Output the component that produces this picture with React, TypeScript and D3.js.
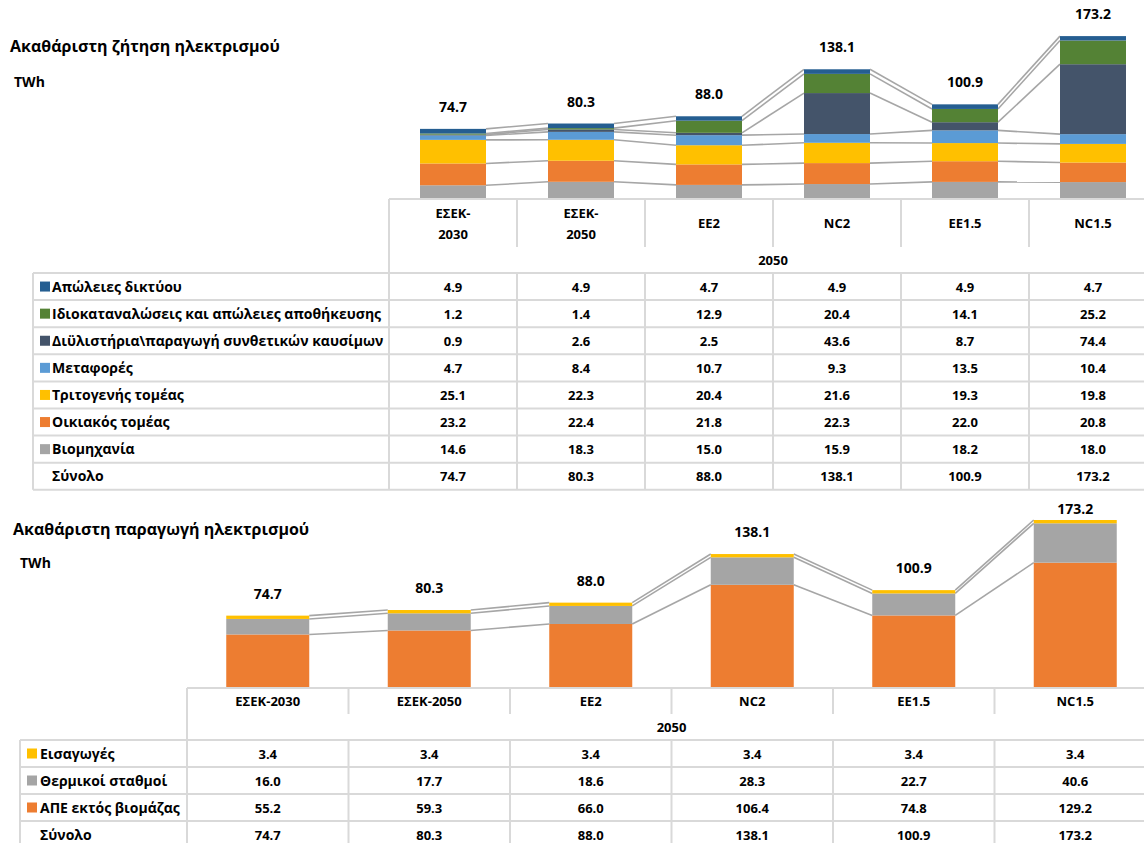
import React from "react";
import * as d3 from "d3";

// scenarios (table columns)
const scenarios = ["ΕΣΕΚ-2030", "ΕΣΕΚ-2050", "EE2", "NC2", "EE1.5", "NC1.5"];
const demandHeads = [["ΕΣΕΚ-", "2030"], ["ΕΣΕΚ-", "2050"], ["EE2"], ["NC2"], ["EE1.5"], ["NC1.5"]];
const yearLabel = "2050";

// gross electricity demand, TWh
const netLosses = [4.9, 4.9, 4.7, 4.9, 4.9, 4.7];
const ownUse = [1.2, 1.4, 12.9, 20.4, 14.1, 25.2];
const refineries = [0.9, 2.6, 2.5, 43.6, 8.7, 74.4];
const transport = [4.7, 8.4, 10.7, 9.3, 13.5, 10.4];
const tertiary = [25.1, 22.3, 20.4, 21.6, 19.3, 19.8];
const residential = [23.2, 22.4, 21.8, 22.3, 22.0, 20.8];
const industry = [14.6, 18.3, 15.0, 15.9, 18.2, 18.0];
const demandTotal = [74.7, 80.3, 88.0, 138.1, 100.9, 173.2];

// gross electricity generation, TWh
const imports = [3.4, 3.4, 3.4, 3.4, 3.4, 3.4];
const thermal = [16.0, 17.7, 18.6, 28.3, 22.7, 40.6];
const renewables = [55.2, 59.3, 66.0, 106.4, 74.8, 129.2];
const genTotal = [74.7, 80.3, 88.0, 138.1, 100.9, 173.2];

// stacked bottom -> top
const demandSeries = [
  { name: "Βιομηχανία", values: industry, color: "#a5a5a5" },
  { name: "Οικιακός τομέας", values: residential, color: "#ed7d31" },
  { name: "Τριτογενής τομέας", values: tertiary, color: "#ffc000" },
  { name: "Μεταφορές", values: transport, color: "#5b9bd5" },
  { name: "Διϋλιστήρια\\παραγωγή συνθετικών καυσίμων", values: refineries, color: "#44546a" },
  { name: "Ιδιοκαταναλώσεις και απώλειες αποθήκευσης", values: ownUse, color: "#548235" },
  { name: "Απώλειες δικτύου", values: netLosses, color: "#255e91" },
];
const genSeries = [
  { name: "ΑΠΕ εκτός βιομάζας", values: renewables, color: "#ed7d31" },
  { name: "Θερμικοί σταθμοί", values: thermal, color: "#a5a5a5" },
  { name: "Εισαγωγές", values: imports, color: "#ffc000" },
];

const FONT = "'Open Sans', 'Noto Sans', sans-serif";
const GRID = "#d9d9d9";
const SERIES_LINE = "#a6a6a6";

type Series = { name: string; values: number[]; color: string };

function Panel(props: {
  series: Series[];
  totals: number[];
  heads: string[][];
  top: number; // chart area top
  tableTop: number;
  tableLeft: number;
  labelRight: number;
  colW: number;
  headH: number;
  yearH: number;
  rowH: number;
  barW: number;
  pxPerUnit: number;
  squareX: number;
  textX: number;
}) {
  const { series, totals, heads, top, tableTop, tableLeft, labelRight, colW, headH, yearH, rowH, barW, pxPerUnit, squareX, textX } = props;
  const n = scenarios.length;
  const right = labelRight + colW * n;

  const x = d3.scaleBand<string>().domain(scenarios).range([labelRight, right]).paddingInner(0).paddingOuter(0);
  const maxV = d3.max(totals) as number;
  const y = d3.scaleLinear().domain([0, maxV]).range([tableTop, tableTop - maxV * pxPerUnit]);

  const table = scenarios.map((s, i) => {
    const o: any = { key: s };
    series.forEach((se) => (o[se.name] = se.values[i]));
    return o;
  });
  const stacked = d3.stack<any>().keys(series.map((s) => s.name))(table);

  const cx = (i: number) => (x(scenarios[i]) as number) + x.bandwidth() / 2;

  // table rows: series in reverse (top of stack first), then total
  const rows = [...series].reverse();
  const rowsTop = tableTop + headH + yearH;
  const nRows = rows.length + 1;
  const tableBottom = rowsTop + nRows * rowH;

  return (
    <g fontFamily={FONT} fontWeight="bold">
      {/* series lines */}
      {stacked.map((layer, k) =>
        layer.slice(0, -1).map((d, i) => (
          <line
            key={`sl-${k}-${i}`}
            x1={cx(i) + barW / 2}
            x2={cx(i + 1) - barW / 2}
            y1={y(d[1])}
            y2={y(layer[i + 1][1])}
            stroke={SERIES_LINE}
            strokeWidth={1.6}
          />
        ))
      )}
      {/* bars */}
      {stacked.map((layer, k) => (
        <g key={`b-${k}`} fill={series[k].color}>
          {layer.map((d, i) => (
            <rect key={i} x={cx(i) - barW / 2} width={barW} y={y(d[1])} height={y(d[0]) - y(d[1])} />
          ))}
        </g>
      ))}
      {/* total labels */}
      {totals.map((t, i) => (
        <text key={`t-${i}`} x={cx(i)} y={Math.max(y(t) - 17, top + 14)} textAnchor="middle" fontSize={14} fill="#000">
          {t.toFixed(1)}
        </text>
      ))}

      {/* table grid */}
      <g stroke={GRID} strokeWidth={2}>
        <line x1={labelRight} x2={right} y1={tableTop} y2={tableTop} />
        {d3.range(nRows + 1).map((r) => (
          <line key={`h-${r}`} x1={tableLeft} x2={right} y1={rowsTop + r * rowH} y2={rowsTop + r * rowH} />
        ))}
        <line x1={tableLeft} x2={tableLeft} y1={rowsTop} y2={tableBottom} />
        <line x1={labelRight} x2={labelRight} y1={tableTop} y2={tableBottom} />
        {d3.range(1, n + 1).map((c) => (
          <g key={`v-${c}`}>
            <line x1={labelRight + c * colW} x2={labelRight + c * colW} y1={tableTop} y2={tableTop + headH} />
            <line x1={labelRight + c * colW} x2={labelRight + c * colW} y1={rowsTop} y2={tableBottom} />
          </g>
        ))}
      </g>

      {/* header */}
      {heads.map((h, i) => (
        <text key={`hd-${i}`} x={cx(i)} textAnchor="middle" fontSize={13} fill="#000">
          {h.map((line, j) => (
            <tspan key={j} x={cx(i)} y={tableTop + headH / 2 + 5 + (j - (h.length - 1) / 2) * 21}>
              {line}
            </tspan>
          ))}
        </text>
      ))}
      <text x={(labelRight + right) / 2} y={tableTop + headH + yearH / 2 + 5} textAnchor="middle" fontSize={13} fill="#000">
        {yearLabel}
      </text>

      {/* rows */}
      {rows.map((se, r) => {
        const ry = rowsTop + r * rowH;
        return (
          <g key={`r-${r}`}>
            <rect x={squareX} y={ry + rowH / 2 - 5} width={10} height={10} fill={se.color} />
            <text x={textX} y={ry + rowH / 2 + 5} fontSize={14} fill="#000">
              {se.name}
            </text>
            {se.values.map((v, i) => (
              <text key={i} x={cx(i)} y={ry + rowH / 2 + 5} textAnchor="middle" fontSize={13} fill="#000">
                {v.toFixed(1)}
              </text>
            ))}
          </g>
        );
      })}
      <g>
        <text x={textX} y={rowsTop + rows.length * rowH + rowH / 2 + 5} fontSize={14} fill="#000">
          Σύνολο
        </text>
        {totals.map((v, i) => (
          <text key={i} x={cx(i)} y={rowsTop + rows.length * rowH + rowH / 2 + 5} textAnchor="middle" fontSize={13} fill="#000">
            {v.toFixed(1)}
          </text>
        ))}
      </g>
    </g>
  );
}

export default function App() {
  return (
    <svg width={1144} height={843} style={{ position: "absolute", left: 0, top: 0, background: "#fff" }}>
      <rect width={1144} height={843} fill="#fff" />
      <g fontFamily={FONT} fontWeight="bold" fill="#000">
        <text x={10} y={52} fontSize={16}>Ακαθάριστη ζήτηση ηλεκτρισμού</text>
        <text x={14} y={87} fontSize={14}>TWh</text>
        <text x={13} y={535} fontSize={16}>Ακαθάριστη παραγωγή ηλεκτρισμού</text>
        <text x={20} y={568} fontSize={14}>TWh</text>
      </g>
      <Panel
        series={demandSeries}
        totals={demandTotal}
        heads={demandHeads}
        top={0}
        tableTop={199}
        tableLeft={33}
        labelRight={389}
        colW={128}
        headH={48}
        yearH={26}
        rowH={27.1}
        barW={66}
        pxPerUnit={0.94}
        squareX={40}
        textX={52}
      />
      <Panel
        series={genSeries}
        totals={genTotal}
        heads={scenarios.map((s) => [s])}
        top={500}
        tableTop={688}
        tableLeft={20}
        labelRight={187}
        colW={161.5}
        headH={26}
        yearH={26}
        rowH={27}
        barW={83}
        pxPerUnit={0.97}
        squareX={27}
        textX={40}
      />
    </svg>
  );
}
